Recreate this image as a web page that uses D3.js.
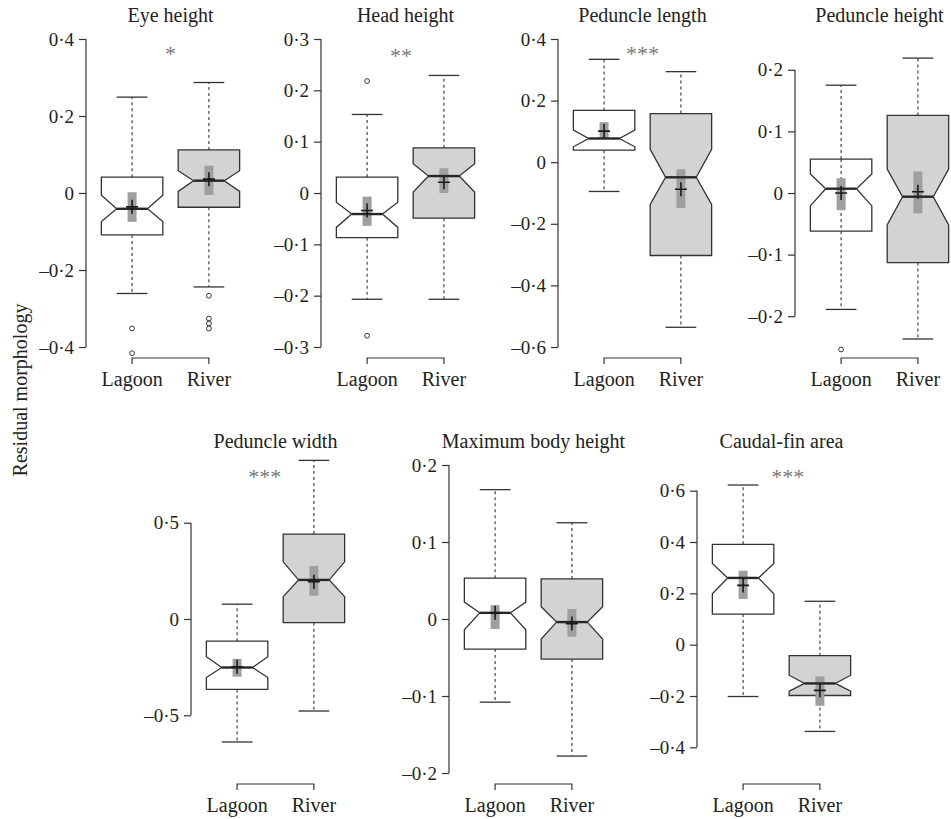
<!DOCTYPE html>
<html>
<head>
<meta charset="utf-8">
<script src="https://cdn.jsdelivr.net/npm/d3@7"></script>
<style>
  html, body { margin: 0; padding: 0; background: #ffffff; }
  svg { display: block; }
  text { font-family: "Liberation Serif", "DejaVu Serif", serif; fill: #222; }
</style>
</head>
<body>
<script>
// ---- data -------------------------------------------------------------
const traits = ["Eye height", "Head height", "Peduncle length", "Peduncle height",
                "Peduncle width", "Maximum body height", "Caudal-fin area"];
const habitats = ["Lagoon", "River"];
const significance = ["*", "**", "***", "", "***", "", "***"];

// per trait: [Lagoon, River]
const whiskerLow  = [[-0.261, -0.244], [-0.207, -0.207], [-0.095, -0.536], [-0.189, -0.237],
                     [-0.639, -0.478], [-0.108, -0.178], [-0.202, -0.338]];
const quartile1   = [[-0.109, -0.037], [-0.087, -0.049], [0.039, -0.303], [-0.062, -0.113],
                     [-0.366, -0.019], [-0.039, -0.052], [0.119, -0.198]];
const notchLow    = [[-0.074, 0.004], [-0.067, 0.002], [0.050, -0.137], [-0.021, -0.052],
                     [-0.304, 0.116], [-0.014, -0.026], [0.198, -0.181]];
const medians     = [[-0.041, 0.032], [-0.041, 0.033], [0.077, -0.049], [0.007, -0.006],
                     [-0.252, 0.203], [0.008, -0.004], [0.260, -0.151]];
const notchHigh   = [[-0.006, 0.058], [-0.018, 0.057], [0.104, 0.042], [0.031, 0.039],
                     [-0.196, 0.297], [0.022, 0.016], [0.316, -0.119]];
const quartile3   = [[0.041, 0.112], [0.031, 0.088], [0.168, 0.158], [0.055, 0.126],
                     [-0.115, 0.441], [0.053, 0.052], [0.391, -0.043]];
const whiskerHigh = [[0.249, 0.287], [0.153, 0.229], [0.334, 0.294], [0.175, 0.219],
                     [0.077, 0.824], [0.168, 0.125], [0.622, 0.169]];
const means       = [[-0.036, 0.036], [-0.034, 0.021], [0.101, -0.088], [0.000, 0.002],
                     [-0.248, 0.194], [0.008, -0.006], [0.231, -0.178]];
const meanCILow   = [[-0.075, -0.005], [-0.064, 0.000], [0.077, -0.149], [-0.028, -0.033],
                     [-0.300, 0.121], [-0.013, -0.023], [0.178, -0.238]];
const meanCIHigh  = [[0.002, 0.071], [-0.007, 0.048], [0.130, -0.023], [0.024, 0.035],
                     [-0.207, 0.276], [0.018, 0.013], [0.288, -0.124]];
const outliers    = [[[-0.352, -0.416], [-0.267, -0.326, -0.339, -0.352]],
                     [[0.218, -0.278], []],
                     [[], []],
                     [[-0.254], []],
                     [[], []],
                     [[], []],
                     [[], []]];
const tickValues  = [[-0.4, -0.2, 0, 0.2, 0.4],
                     [-0.3, -0.2, -0.1, 0, 0.1, 0.2, 0.3],
                     [-0.6, -0.4, -0.2, 0, 0.2, 0.4],
                     [-0.2, -0.1, 0, 0.1, 0.2],
                     [-0.5, 0, 0.5],
                     [-0.2, -0.1, 0, 0.1, 0.2],
                     [-0.4, -0.2, 0, 0.2, 0.4, 0.6]];
const yLimits     = [[-0.4, 0.4], [-0.3, 0.3], [-0.6, 0.4], [-0.25, 0.25],
                     [-0.8, 0.8], [-0.2, 0.2], [-0.5, 0.7]];
const yAxisTitle = "Residual morphology";

// ---- layout -----------------------------------------------------------
const W = 951, H = 819;
const rowTop = [39, 465];
const plotH = 308;
const plotW = 169;
const panels = [
  { row: 0, left: 86,  starX: 1.50, starDy: 22 },
  { row: 0, left: 321, starX: 1.44, starDy: 24 },
  { row: 0, left: 558, starX: 1.50, starDy: 22 },
  { row: 0, left: 795, starX: 1.50, starDy: 22, whiskerThrough: [true, false] },
  { row: 1, left: 191, starX: 1.36, starDy: 19 },
  { row: 1, left: 449, starX: 1.50, starDy: 19 },
  { row: 1, left: 697, starX: 1.58, starDy: 19 }
];
const boxFill = ["#ffffff", "#d3d3d3"];
const ink = "#333333";

const fmt = v => v === 0 ? "0" : (v < 0 ? "\u2013" : "") + Math.abs(v).toFixed(1).replace(".", "\u00b7");

const svg = d3.select("body").append("svg")
  .attr("width", W).attr("height", H);

svg.append("text")
  .attr("transform", "translate(27,390) rotate(-90)")
  .attr("text-anchor", "middle")
  .attr("font-size", 20)
  .text(yAxisTitle);

panels.forEach((p, i) => {
  const top = rowTop[p.row];
  const y = d3.scaleLinear().domain(yLimits[i]).range([top + plotH, top]);
  const x = d3.scaleLinear().domain([0.4, 2.6]).range([p.left, p.left + plotW]);
  const g = svg.append("g");
  const halfW = x(1.4) - x(1);

  // title
  g.append("text")
    .attr("x", x(1.5)).attr("y", top - 17)
    .attr("text-anchor", "middle").attr("font-size", 20)
    .text(traits[i]);

  // y axis
  const axis = d3.axisLeft(y).tickValues(tickValues[i]).tickFormat(fmt)
    .tickSizeInner(7).tickSizeOuter(0).tickPadding(5);
  const ag = g.append("g").attr("transform", `translate(${p.left},0)`).call(axis);
  ag.select(".domain").remove();
  const tv = tickValues[i];
  ag.append("line")
    .attr("x1", 0).attr("x2", 0)
    .attr("y1", y(tv[0])).attr("y2", y(tv[tv.length - 1]))
    .attr("stroke", ink).attr("stroke-width", 1.2);
  ag.selectAll(".tick line").attr("stroke", ink).attr("stroke-width", 1.2);
  ag.selectAll(".tick text")
    .attr("font-family", "Liberation Serif, serif")
    .attr("font-size", 19).attr("fill", "#222");

  // group bracket and labels
  const by = top + 319;
  g.append("path")
    .attr("d", `M${x(1)},${by + 6}V${by}H${x(2)}V${by + 6}`)
    .attr("fill", "none").attr("stroke", ink).attr("stroke-width", 1.2);
  habitats.forEach((h, k) => {
    g.append("text")
      .attr("x", x(k + 1)).attr("y", top + 347)
      .attr("text-anchor", "middle").attr("font-size", 20)
      .text(h);
  });

  // significance
  if (significance[i]) {
    g.append("text")
      .attr("x", x(p.starX)).attr("y", top + p.starDy)
      .attr("text-anchor", "middle").attr("font-size", 22)
      .attr("fill", "#777")
      .style("fill", "#777")
      .text(significance[i]);
  }

  habitats.forEach((h, k) => {
    const cx = x(k + 1);
    const q1 = y(quartile1[i][k]), q3 = y(quartile3[i][k]);
    const nl = y(notchLow[i][k]), nh = y(notchHigh[i][k]);
    const md = y(medians[i][k]);

    // whiskers
    const dashed = (y1, y2) => g.append("line")
      .attr("x1", cx).attr("x2", cx).attr("y1", y1).attr("y2", y2)
      .attr("stroke", ink).attr("stroke-width", 1.1).attr("stroke-dasharray", "3,3");
    dashed(q3, y(whiskerHigh[i][k]));
    dashed(q1, y(whiskerLow[i][k]));
    [whiskerHigh[i][k], whiskerLow[i][k]].forEach(v => {
      g.append("line")
        .attr("x1", cx - halfW / 2).attr("x2", cx + halfW / 2)
        .attr("y1", y(v)).attr("y2", y(v))
        .attr("stroke", ink).attr("stroke-width", 1.3);
    });

    // notched box
    const pts = [
      [cx - halfW, q1], [cx - halfW, nl], [cx - halfW / 2, md], [cx - halfW, nh], [cx - halfW, q3],
      [cx + halfW, q3], [cx + halfW, nh], [cx + halfW / 2, md], [cx + halfW, nl], [cx + halfW, q1]
    ];
    g.append("path")
      .attr("d", d3.line()(pts) + "Z")
      .attr("fill", boxFill[k]).attr("stroke", ink).attr("stroke-width", 1.3);

    if (p.whiskerThrough && p.whiskerThrough[k]) {
      dashed(q3, q1);
    }

    // mean interval
    g.append("rect")
      .attr("x", cx - 4.5).attr("width", 9)
      .attr("y", y(meanCIHigh[i][k]))
      .attr("height", y(meanCILow[i][k]) - y(meanCIHigh[i][k]))
      .attr("fill", "#9f9f9f");

    // median
    g.append("line")
      .attr("x1", cx - halfW / 2).attr("x2", cx + halfW / 2)
      .attr("y1", md).attr("y2", md)
      .attr("stroke", "#262626").attr("stroke-width", 2.4);

    // mean cross
    const my = y(means[i][k]);
    g.append("path")
      .attr("d", `M${cx - 6},${my}H${cx + 6}M${cx},${my - 7}V${my + 7}`)
      .attr("stroke", "#1a1a1a").attr("stroke-width", 1.6).attr("fill", "none");

    // outliers
    outliers[i][k].forEach(v => {
      g.append("circle")
        .attr("cx", cx).attr("cy", y(v)).attr("r", 2.4)
        .attr("fill", "#fff").attr("stroke", ink).attr("stroke-width", 1);
    });
  });
});
</script>
</body>
</html>
